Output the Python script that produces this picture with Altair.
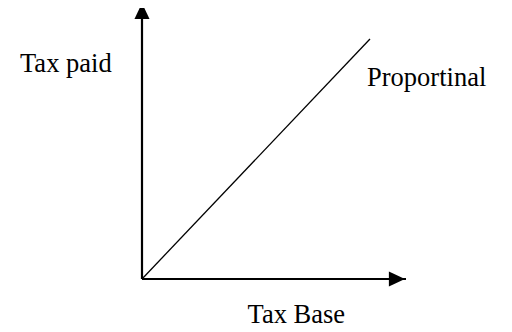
import altair as alt
import pandas as pd

# Proportional tax: tax paid grows in proportion to the tax base
tax_base = [0, 100]
tax_paid = [0, 100]

# axis extents (arrow tips) and arrowhead bases, in data units
axis_end_x = 115.8
axis_end_y = 115.0
arrow_base_x = 108.3
arrow_base_y = 108.3

labels = ["Tax paid", "Proportinal", "Tax Base"]
label_x = [-53.5, 98.7, 46.3]
label_y = [86.3, 80.6, -18.3]

X_DOMAIN = [0, 115.8]
Y_DOMAIN = [0, 112.9]

xs = alt.Scale(domain=X_DOMAIN, nice=False, zero=False)
ys = alt.Scale(domain=Y_DOMAIN, nice=False, zero=False)

line_df = pd.DataFrame({"base": tax_base, "paid": tax_paid})
axes_df = pd.DataFrame({
    "x": [0, 0], "x2": [axis_end_x, 0],
    "y": [0, 0], "y2": [0, axis_end_y],
})
heads_df = pd.DataFrame({
    "x": [0, arrow_base_x], "y": [arrow_base_y, 0], "angle": [0, 90],
})
labels_df = pd.DataFrame({"label": labels, "x": label_x, "y": label_y})

arrow_path = "M0,-1L-0.47,0L0.47,0Z"

line = alt.Chart(line_df).mark_line(color="black", strokeWidth=1.3).encode(
    x=alt.X("base:Q", scale=xs, axis=None),
    y=alt.Y("paid:Q", scale=ys, axis=None),
)

axes = alt.Chart(axes_df).mark_rule(color="black", strokeWidth=2.2).encode(
    x=alt.X("x:Q", scale=xs, axis=None),
    x2="x2:Q",
    y=alt.Y("y:Q", scale=ys, axis=None),
    y2="y2:Q",
)

heads = alt.Chart(heads_df).mark_point(
    shape=arrow_path, filled=True, color="black", opacity=1, size=1024, strokeWidth=0
).encode(
    x=alt.X("x:Q", scale=xs, axis=None),
    y=alt.Y("y:Q", scale=ys, axis=None),
    angle=alt.Angle("angle:Q", scale=None),
)

texts = alt.Chart(labels_df).mark_text(
    align="left", baseline="alphabetic", font="Liberation Serif", fontSize=26.5, color="black"
).encode(
    x=alt.X("x:Q", scale=xs, axis=None),
    y=alt.Y("y:Q", scale=ys, axis=None),
    text="label:N",
)

chart = alt.layer(axes, line, heads, texts).properties(
    width=264,
    height=271,
    autosize=alt.AutoSizeParams(type="none"),
    padding={"left": 134, "top": 0, "right": 98, "bottom": 53},
).configure_view(stroke=None)

chart.save("out.html", embed_options={"renderer": "svg", "actions": False})
